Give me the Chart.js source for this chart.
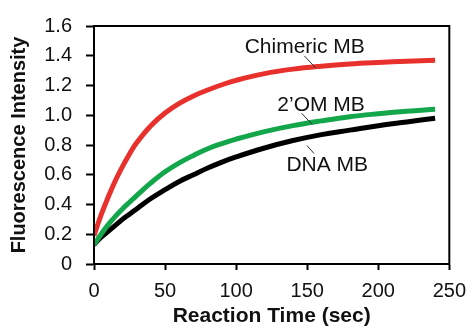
<!DOCTYPE html>
<html>
<head>
<meta charset="utf-8">
<script src="https://cdn.jsdelivr.net/npm/chart.js@4"></script>
<style>
    html, body { margin: 0; padding: 0; background: #fff; }
    #wrap { width: 475px; height: 329px; }
</style>
</head>
<body>
<div id="wrap"><canvas id="kinetics"></canvas></div>
<script>
// Reaction time (sec) at which each curve was read
const times = [0, 5, 10, 15, 20, 25, 30, 40, 50, 60, 70, 80, 90, 100, 120, 140, 160, 180, 200, 220, 240];

// Fluorescence intensity
const chimericMB = [0.19, 0.33, 0.45, 0.56, 0.655, 0.74, 0.815, 0.93, 1.015, 1.08, 1.13, 1.17, 1.205, 1.235, 1.28, 1.31, 1.33, 1.345, 1.355, 1.363, 1.37];
const omeMB      = [0.13, 0.20, 0.265, 0.32, 0.37, 0.415, 0.46, 0.545, 0.62, 0.68, 0.73, 0.775, 0.81, 0.84, 0.89, 0.93, 0.962, 0.99, 1.01, 1.027, 1.04];
const dnaMB      = [0.13, 0.18, 0.22, 0.26, 0.30, 0.335, 0.37, 0.44, 0.50, 0.555, 0.60, 0.645, 0.685, 0.72, 0.78, 0.83, 0.87, 0.90, 0.93, 0.955, 0.98];

const xTickLabels = ['0', '50', '100', '150', '200', '250'];
const yTickLabels = ['0', '0.2', '0.4', '0.6', '0.8', '1.0', '1.2', '1.4', '1.6'];

const seriesNames = ['Chimeric MB', '2\u2019OM MB', 'DNA MB'];

// where each curve name sits (data units), and its leader line
const labelSpots = [
    { text: seriesNames[0], x: 106, y: 1.416, from: [148, 1.399], to: [156, 1.318] },
    { text: seriesNames[1], x: 129, y: 1.03, from: [146, 1.014], to: [153.6, 0.938] },
    { text: seriesNames[2], x: 135.4, y: 0.627, from: [149.8, 0.797], to: [154.8, 0.743] }
];

const FONT = "'Liberation Sans', Arial, sans-serif";

function toPoints(values) {
    return times.map((t, i) => ({ x: t, y: values[i] }));
}

// box around the plot area plus the curve names
const frameAndLabels = {
    id: 'frameAndLabels',
    afterDatasetsDraw(chart) {
        const { ctx, chartArea, scales } = chart;
        ctx.save();
        ctx.strokeStyle = '#000';
        ctx.lineWidth = 2;
        ctx.strokeRect(chartArea.left, chartArea.top, chartArea.right - chartArea.left, chartArea.bottom - chartArea.top);

        ctx.font = '21px ' + FONT;
        ctx.fillStyle = '#111';
        ctx.textBaseline = 'alphabetic';
        ctx.textAlign = 'left';
        labelSpots.forEach(l => {
            ctx.fillText(l.text, scales.x.getPixelForValue(l.x), scales.y.getPixelForValue(l.y));
            ctx.beginPath();
            ctx.lineWidth = 1;
            ctx.strokeStyle = '#333';
            ctx.moveTo(scales.x.getPixelForValue(l.from[0]), scales.y.getPixelForValue(l.from[1]));
            ctx.lineTo(scales.x.getPixelForValue(l.to[0]), scales.y.getPixelForValue(l.to[1]));
            ctx.stroke();
        });
        ctx.restore();
    }
};

function makeLine(label, values, color) {
    return {
        label: label,
        data: toPoints(values),
        borderColor: color,
        backgroundColor: color,
        borderWidth: 5,
        pointRadius: 0,
        tension: 0.4,
        fill: false
    };
}

new Chart(document.getElementById('kinetics'), {
    type: 'line',
    data: {
        datasets: [
            makeLine(seriesNames[0], chimericMB, '#e8312d'),
            makeLine(seriesNames[1], omeMB, '#14a64b'),
            makeLine(seriesNames[2], dnaMB, '#000000')
        ]
    },
    options: {
        responsive: true,
        maintainAspectRatio: false,
        animation: false,
        layout: { padding: { top: 18, right: 16, bottom: 0, left: 0 } },
        plugins: {
            legend: { display: false },
            tooltip: { enabled: false }
        },
        scales: {
            x: {
                type: 'linear',
                min: 0,
                max: 250,
                afterFit(scale) { scale.height = 65; },
                afterBuildTicks(scale) {
                    scale.ticks = xTickLabels.map(v => ({ value: Number(v) }));
                },
                ticks: {
                    color: '#111',
                    padding: 9,
                    maxRotation: 0,
                    font: { family: FONT, size: 20 },
                    callback: (v, i) => xTickLabels[i]
                },
                grid: { drawOnChartArea: false, color: '#000', tickLength: 6, tickWidth: 2 },
                border: { color: '#000', width: 2 },
                title: {
                    display: true,
                    text: 'Reaction Time (sec)',
                    color: '#111',
                    padding: { top: 0, bottom: 0 },
                    font: { family: FONT, size: 21, weight: 'bold' }
                }
            },
            y: {
                min: 0,
                max: 1.6,
                afterFit(scale) { scale.width = 94; },
                afterBuildTicks(scale) {
                    scale.ticks = yTickLabels.map(v => ({ value: Number(v) }));
                },
                ticks: {
                    color: '#111',
                    padding: 14,
                    font: { family: FONT, size: 20 },
                    callback: (v, i) => yTickLabels[i]
                },
                grid: { drawOnChartArea: false, color: '#000', tickLength: 8, tickWidth: 2 },
                border: { color: '#000', width: 2 },
                title: {
                    display: true,
                    text: 'Fluorescence Intensity',
                    color: '#111',
                    padding: { top: 7, bottom: 0 },
                    font: { family: FONT, size: 20, weight: 'bold' }
                }
            }
        }
    },
    plugins: [frameAndLabels]
});
</script>
</body>
</html>
